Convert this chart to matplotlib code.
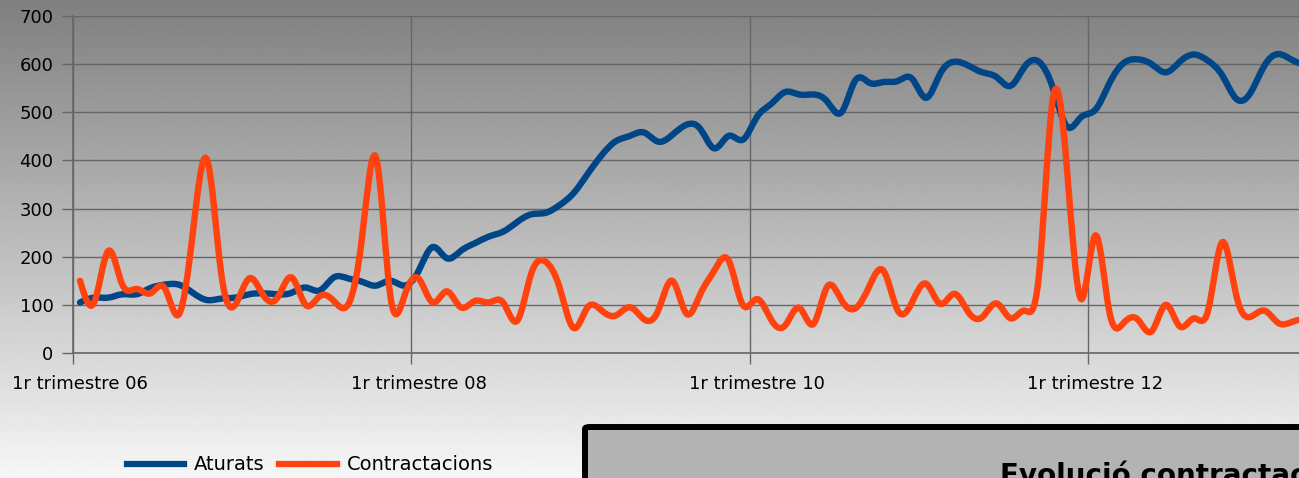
import numpy as np
import matplotlib.pyplot as plt
from matplotlib.path import Path
from matplotlib.patches import PathPatch, FancyBboxPatch
from matplotlib.lines import Line2D

# monthly values, Jan 2006 onwards
aturats = [105, 115, 115, 122, 122, 135, 142, 142, 125, 110,
           113, 115, 122, 124, 122, 125, 136, 130, 157, 155,
           148, 140, 150, 140, 170, 220, 197, 212, 228, 242,
           252, 272, 288, 291, 307, 332, 372, 411, 440, 451,
           458, 439, 453, 474, 465, 425, 451, 443, 490, 517,
           542, 537, 537, 522, 500, 567, 561, 563, 565, 570,
           530, 580, 605, 597, 583, 573, 555, 595, 605, 550,
           470, 490, 505, 560, 602, 610, 600, 583, 605, 620,
           607, 577, 528, 540, 597, 621, 608, 598]

contractacions = [150, 105, 212, 142, 133, 124, 135, 80, 250, 402,
                  168, 100, 155, 120, 115, 157, 100, 118, 108, 100,
                  240, 405, 120, 118, 155, 105, 128, 95, 108, 105,
                  105, 67, 165, 190, 137, 52, 95, 88, 78, 95,
                  70, 88, 150, 82, 123, 172, 192, 100, 112, 70,
                  57, 94, 60, 138, 110, 93, 140, 170, 88, 105,
                  144, 102, 123, 85, 75, 103, 72, 88, 160, 530,
                  380, 112, 244, 86, 62, 70, 45, 100, 55, 72,
                  88, 230, 120, 75, 88, 62, 65, 72]

tick_months = [0, 24, 48, 72]
tick_labels = ["1r trimestre 06", "1r trimestre 08", "1r trimestre 10", "1r trimestre 12"]

BLUE = "#004586"
ORANGE = "#ff420e"
GRID = "#666666"


def spline_path(ys):
    # natural cubic spline through the points (like the office "cubic spline" lines),
    # handed to matplotlib as bezier segments
    y = np.asarray(ys, dtype=float)
    n = len(y)
    A = np.zeros((n, n))
    rhs = np.zeros(n)
    A[0, 0] = A[-1, -1] = 1.0
    for i in range(1, n - 1):
        A[i, i - 1], A[i, i], A[i, i + 1] = 1.0, 4.0, 1.0
        rhs[i] = 6.0 * (y[i + 1] - 2 * y[i] + y[i - 1])
    M = np.linalg.solve(A, rhs)

    verts = [(0.0, y[0])]
    codes = [Path.MOVETO]
    for i in range(n - 1):
        d = y[i + 1] - y[i]
        s0 = d - (2 * M[i] + M[i + 1]) / 6.0
        s1 = d + (M[i] + 2 * M[i + 1]) / 6.0
        verts += [(i + 1 / 3, y[i] + s0 / 3), (i + 2 / 3, y[i + 1] - s1 / 3), (i + 1.0, y[i + 1])]
        codes += [Path.CURVE4] * 3
    return Path(verts, codes)


W, H = 1299, 478
fig = plt.figure(figsize=(W / 100, H / 100), dpi=100)

# grey gradient background
bg = fig.add_axes([0, 0, 1, 1], zorder=-10)
grad = np.linspace(0.50, 0.965, 256).reshape(-1, 1)
bg.imshow(grad, cmap="gray", vmin=0, vmax=1, aspect="auto", extent=[0, 1, 0, 1], origin="upper")
bg.axis("off")

ax = fig.add_axes([73 / W, 1 - 353 / H, 1 - 73 / W, (353 - 16) / H])
ax.set_facecolor("none")
ax.set_xlim(-0.5, 86.45)
ax.set_ylim(0, 700)

ax.set_yticks(range(0, 701, 100))
ax.yaxis.grid(True, color=GRID, lw=1.0)
ax.set_xticks([m - 0.5 for m in tick_months])
ax.set_xticklabels([])
ax.set_xticks(tick_months, minor=True)
ax.set_xticklabels(tick_labels, minor=True)
ax.xaxis.grid(True, which="major", color=GRID, lw=1.0)
ax.set_axisbelow(True)

ax.tick_params(axis="y", length=8, width=1, color=GRID, labelsize=13, pad=6)
ax.tick_params(axis="x", which="major", length=8, width=1, color=GRID)
ax.tick_params(axis="x", which="minor", length=0, labelsize=13, pad=16)
for s in ["top", "right"]:
    ax.spines[s].set_visible(False)
for s in ["left", "bottom"]:
    ax.spines[s].set_color(GRID)
    ax.spines[s].set_linewidth(1.2)

ax.add_patch(PathPatch(spline_path(aturats), fill=False, edgecolor=BLUE, lw=4.6,
                       capstyle="round", joinstyle="round", zorder=3))
ax.add_patch(PathPatch(spline_path(contractacions), fill=False, edgecolor=ORANGE, lw=4.6,
                       capstyle="round", joinstyle="round", zorder=4))

handles = [Line2D([], [], color=BLUE, lw=4.5), Line2D([], [], color=ORANGE, lw=4.5)]
fig.legend(handles, ["Aturats", "Contractacions"], loc="center",
           bbox_to_anchor=(310 / W, 1 - 465 / H), ncol=2, frameon=False,
           fontsize=14, handlelength=2.95, handletextpad=0.5, columnspacing=0.75)

# framed title box, cut off at the bottom-right of the image
box = FancyBboxPatch((585 / W, 1 - 510 / H), 0.6, 83 / H,
                     boxstyle="round,pad=0,rounding_size=0.004",
                     transform=fig.transFigure, facecolor="#b3b3b3",
                     edgecolor="black", lw=4.3, zorder=5)
fig.add_artist(box)
fig.text(1000 / W, 1 - 484 / H, "Evolució contractacions", fontsize=20,
         fontweight="bold", va="baseline", ha="left", zorder=6)

fig.savefig("out.png", dpi=100)
